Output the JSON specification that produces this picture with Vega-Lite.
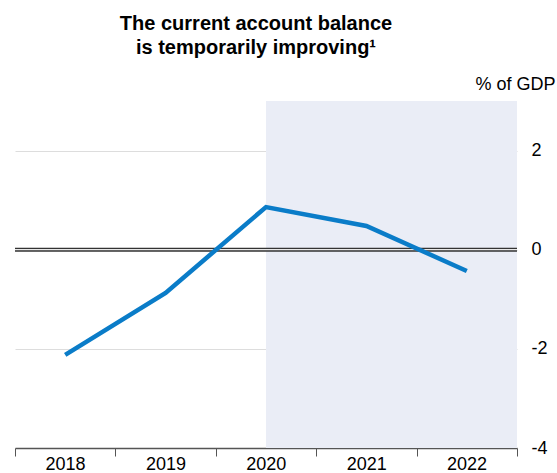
{
  "$schema": "https://vega.github.io/schema/vega-lite/v6.json",
  "autosize": "none",
  "width": 502,
  "height": 347,
  "padding": {"left": 15, "top": 101, "right": 40, "bottom": 25},
  "background": "white",
  "config": {
    "font": "Liberation Sans",
    "view": {"stroke": null}
  },
  "title": {
    "text": ["The current account balance", " is temporarily improving¹"],
    "anchor": "start",
    "align": "center",
    "dx": 243,
    "fontSize": 20,
    "fontWeight": "bold",
    "lineHeight": 24,
    "color": "#000000",
    "offset": 17,
    "font": "Liberation Sans"
  },
  "datasets": {
    "series": [
      {"year": 2018, "value": -2.12},
      {"year": 2019, "value": -0.87},
      {"year": 2020, "value": 0.86},
      {"year": 2021, "value": 0.48},
      {"year": 2022, "value": -0.43}
    ],
    "shade": [{"start": 2020, "end": 2022.5}],
    "zero": [{"value": 0}]
  },
  "layer": [
    {
      "data": {"name": "shade"},
      "mark": {"type": "rect", "color": "#eaedf6"},
      "encoding": {
        "x": {"field": "start", "type": "quantitative",
              "scale": {"domain": [2017.5, 2022.5], "nice": false, "zero": false},
              "axis": {
                "values": [2017.5, 2018.5, 2019.5, 2020.5, 2021.5, 2022.5],
                "labelExpr": "datum.value < 2022 ? '' + (datum.value + 0.5) : ''",
                "labelOffset": 50,
                "labelFontSize": 18,
                "labelColor": "#000000",
                "labelPadding": -1,
                "tickSize": 8,
                "tickColor": "#555555",
                "domainColor": "#555555",
                "domainWidth": 1.5,
                "tickWidth": 1,
                "grid": false,
                "title": null,
                "labelFlush": false
              }},
        "x2": {"field": "end"},
        "y": {"datum": 3, "type": "quantitative",
              "scale": {"domain": [-4, 3], "nice": false},
              "axis": {
                "orient": "right",
                "values": [-4, -2, 0, 2],
                "labelExpr": "'' + datum.value",
                "labelFontSize": 18,
                "labelColor": "#000000",
                "labelPadding": 14,
                "ticks": false,
                "domain": false,
                "grid": true,
                "gridColor": "#dddddd",
                "gridWidth": 1,
                "title": "% of GDP",
                "titleAngle": 0,
                "titleFontWeight": "normal",
                "titleFontSize": 18,
                "titleColor": "#000000",
                "titleAlign": "right",
                "titleBaseline": "alphabetic",
                "titleX": 38,
                "titleY": -12
              }},
        "y2": {"datum": -4}
      }
    },
    {
      "data": {"name": "zero"},
      "mark": {"type": "rule", "color": "#333333", "strokeWidth": 4},
      "encoding": {"y": {"field": "value", "type": "quantitative"}}
    },
    {
      "data": {"name": "zero"},
      "mark": {"type": "rule", "color": "#e8e8e8", "strokeWidth": 1.2},
      "encoding": {"y": {"field": "value", "type": "quantitative"}}
    },
    {
      "data": {"name": "series"},
      "mark": {"type": "line", "color": "#0a7cc8", "strokeWidth": 4.5},
      "encoding": {
        "x": {"field": "year", "type": "quantitative"},
        "y": {"field": "value", "type": "quantitative"}
      }
    }
  ]
}
